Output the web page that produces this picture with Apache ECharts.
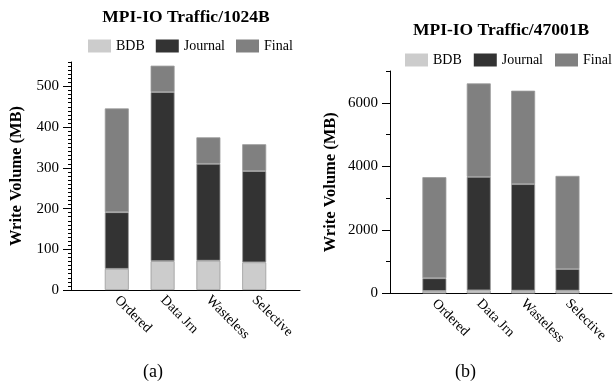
<!DOCTYPE html>
<html><head><meta charset="utf-8">
<script src="https://cdn.jsdelivr.net/npm/echarts@6/dist/echarts.min.js"></script>
<style>html,body{margin:0;padding:0;background:#fff}#c{width:614px;height:387px}</style>
</head><body><div id="c"></div>
<script>
const categories = ['Ordered', 'Data Jrn', 'Wasteless', 'Selective'];
const seriesNames = ['BDB', 'Journal', 'Final'];
// Panel (a): MPI-IO Traffic/1024B
const bdbA = [52, 71, 72, 68];
const journalA = [139, 415, 238, 224];
const finalA = [255, 65, 65, 66];
// Panel (b): MPI-IO Traffic/47001B
const bdbB = [80, 100, 90, 90];
const journalB = [400, 3570, 3350, 680];
const finalB = [3180, 2940, 2940, 2930];
const titleA = 'MPI-IO Traffic/1024B';
const titleB = 'MPI-IO Traffic/47001B';
const yName = 'Write Volume (MB)';
const yLabelsA = [0, 100, 200, 300, 400, 500];
const yLabelsB = [0, 2000, 4000, 6000];

const colors = ['#cccccc', '#333333', '#808080'];
const FONT = 'Liberation Serif';
const axisCats = [''].concat(categories, ['']);
const pad = arr => [null].concat(arr, [null]);

const chart = echarts.init(document.getElementById('c'), null, {renderer: 'canvas'});

function yAxes(gridIndex, max, minorInt, labels, nameGap, minorLen) {
  return [
    {
      type: 'value', gridIndex, position: 'left', min: 0, max, interval: minorInt,
      name: yName, nameLocation: 'middle', nameGap,
      nameTextStyle: {fontFamily: FONT, fontWeight: 'bold', fontSize: 16.5, color: '#000'},
      axisLine: {show: true, lineStyle: {color: '#000', width: 1}},
      axisTick: {show: true, length: minorLen, lineStyle: {color: '#000'}},
      axisLabel: {fontFamily: FONT, fontSize: 15, color: '#000', margin: 12,
        formatter: v => labels.indexOf(v) >= 0 ? String(v) : ''},
      splitLine: {show: false}
    },
    {
      type: 'value', gridIndex, position: 'left', min: 0, max,
      axisLine: {show: false},
      axisTick: {show: true, length: 8, customValues: labels, lineStyle: {color: '#000'}},
      axisLabel: {show: false},
      splitLine: {show: false}
    }
  ];
}

function xAxis(gridIndex) {
  return {
    type: 'category', gridIndex, data: axisCats, boundaryGap: false,
    axisLine: {lineStyle: {color: '#000', width: 1}},
    axisTick: {show: false},
    axisLabel: {interval: 0, rotate: -45, fontFamily: FONT, fontSize: 14, color: '#000', margin: 8}
  };
}

function seriesFor(xi, yi, data) {
  return data.map((d, i) => ({
    name: seriesNames[i], type: 'bar', stack: 's' + xi, xAxisIndex: xi, yAxisIndex: yi,
    data: pad(d), barWidth: 24,
    itemStyle: {color: colors[i], borderColor: '#9a9a9a', borderWidth: 0.8},
    emphasis: {disabled: true}
  }));
}

const legendBase = {
  itemWidth: 23, itemHeight: 13, itemGap: 11, icon: 'rect', padding: 0,
  itemStyle: {borderWidth: 0},
  textStyle: {fontFamily: FONT, fontSize: 14, color: '#000'},
  data: seriesNames
};

chart.setOption({
  animation: false,
  color: colors,
  title: [
    {text: titleA, left: 186, top: 8, textAlign: 'center', padding: 0,
      textStyle: {fontFamily: FONT, fontWeight: 'bold', fontSize: 17.5, color: '#000'}},
    {text: titleB, left: 501, top: 21, textAlign: 'center', padding: 0,
      textStyle: {fontFamily: FONT, fontWeight: 'bold', fontSize: 17.5, color: '#000'}}
  ],
  legend: [
    Object.assign({}, legendBase, {left: 88, top: 39}),
    Object.assign({}, legendBase, {left: 405, top: 53, itemGap: 12, width: 300})
  ],
  grid: [
    {left: 71, top: 62, width: 229, height: 228, containLabel: false},
    {left: 390, top: 71, width: 223, height: 222.5, containLabel: false}
  ],
  xAxis: [xAxis(0), xAxis(1)],
  yAxis: yAxes(0, 560, 10, yLabelsA, 46, 3).concat(yAxes(1, 7000, 1000, yLabelsB, 51, 4)),
  series: seriesFor(0, 0, [bdbA, journalA, finalA]).concat(seriesFor(1, 2, [bdbB, journalB, finalB])),
  graphic: [
    {type: 'text', left: 143, top: 363, style: {text: '(a)', fontFamily: FONT, fontSize: 18, fill: '#000'}},
    {type: 'text', left: 455, top: 363, style: {text: '(b)', fontFamily: FONT, fontSize: 18, fill: '#000'}}
  ]
});
</script></body></html>
